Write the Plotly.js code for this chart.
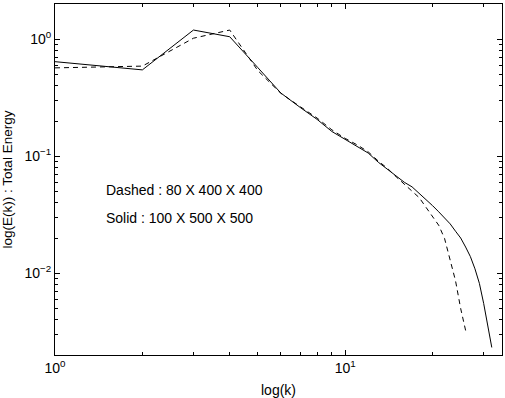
<!DOCTYPE html>
<html>
<head>
<meta charset="utf-8">
<script src="https://cdn.plot.ly/plotly-3.0.1.min.js"></script>
<style>
  html, body { margin: 0; padding: 0; background: #fff; }
  #plot { width: 505px; height: 398px; }
</style>
</head>
<body>
<div id="plot"></div>
<script>
// wavenumber k and energy spectrum E(k)
const kSolid = [1, 2, 3, 4, 5, 6, 7, 8, 9, 10, 11, 12, 13, 14, 15, 16,
    17, 18, 19, 20, 21, 22, 23, 24, 25, 26, 27, 28, 29, 30, 31, 32];
const eSolid = [0.643, 0.547, 1.198, 1.05, 0.572, 0.347, 0.261, 0.2065,
    0.1626, 0.1396, 0.1217, 0.1065, 0.0889, 0.0775, 0.0676, 0.0598,
    0.0547, 0.0482, 0.0427, 0.0378, 0.0335, 0.0299, 0.0264, 0.02286,
    0.0200, 0.01674, 0.01387, 0.01090, 0.00819, 0.00552, 0.00344, 0.00232];

const kDashed = [1, 2, 3, 4, 5, 6, 7, 8, 9, 10, 11, 12, 13, 14, 15, 16,
    17, 18, 19, 20, 21, 22, 23, 24, 25, 26];
const eDashed = [0.569, 0.589, 1.02, 1.198, 0.539, 0.345, 0.265, 0.212,
    0.168, 0.142, 0.125, 0.109, 0.091, 0.0785, 0.0665, 0.0572,
    0.0504, 0.0442, 0.0365, 0.0305, 0.0257, 0.0198, 0.01316, 0.00861,
    0.00499, 0.00324];

const xTickVals = [1, 10];
const xTickText = ['10<sup>0</sup>', '10<sup>1</sup>'];
const xMinorVals = [2, 3, 4, 5, 6, 7, 8, 9, 20, 30];

const yTickVals = [0.01, 0.1, 1];
const yTickText = ['10<sup>\u22122</sup>', '10<sup>\u22121</sup>', '10<sup>0</sup>'];
const yMinorVals = [0.003, 0.004, 0.005, 0.006, 0.007, 0.008, 0.009,
    0.02, 0.03, 0.04, 0.05, 0.06, 0.07, 0.08, 0.09,
    0.2, 0.3, 0.4, 0.5, 0.6, 0.7, 0.8, 0.9, 2];

const labels = ['Dashed : 80 X 400 X 400', 'Solid : 100 X 500 X 500'];

const font = 'Liberation Sans, Arial, Helvetica, sans-serif';

const data = [
    {
        x: kSolid,
        y: eSolid,
        type: 'scatter',
        mode: 'lines',
        line: {color: '#000', width: 1},
        hoverinfo: 'skip',
    },
    {
        x: kDashed,
        y: eDashed,
        type: 'scatter',
        mode: 'lines',
        line: {color: '#000', width: 1, dash: '5px,4px'},
        hoverinfo: 'skip',
    },
];

const axisCommon = {
    type: 'log',
    showgrid: false,
    zeroline: false,
    showline: true,
    linecolor: '#000',
    linewidth: 1,
    mirror: 'ticks',
    ticks: 'inside',
    ticklen: 5,
    tickcolor: '#000',
    tickmode: 'array',
    tickfont: {family: font, size: 14, color: '#000'},
};

const layout = {
    width: 505,
    height: 398,
    margin: {l: 55, r: 3, t: 4, b: 43},
    paper_bgcolor: '#fff',
    plot_bgcolor: '#fff',
    showlegend: false,
    font: {family: font, size: 14, color: '#000'},
    xaxis: Object.assign({}, axisCommon, {
        range: [0, Math.log10(34.7)],
        tickvals: xTickVals,
        ticktext: xTickText,
        minor: {ticks: 'inside', ticklen: 3, tickcolor: '#000', tickmode: 'array', tickvals: xMinorVals},
        title: {text: 'log(k)', font: {family: font, size: 14}, standoff: 12},
    }),
    yaxis: Object.assign({}, axisCommon, {
        range: [Math.log10(0.002), Math.log10(2)],
        tickvals: yTickVals,
        ticktext: yTickText,
        minor: {ticks: 'inside', ticklen: 3, tickcolor: '#000', tickmode: 'array', tickvals: yMinorVals},
        title: {text: 'log(E(k)) : Total Energy', font: {family: font, size: 13.5}, standoff: 9},
    }),
    annotations: labels.map((t, i) => ({
        text: t,
        xref: 'paper',
        yref: 'paper',
        x: 0.11,
        y: i === 0 ? 0.47 : 0.39,
        xanchor: 'left',
        yanchor: 'middle',
        showarrow: false,
        font: {family: font, size: 14, color: '#000'},
    })),
};

Plotly.newPlot('plot', data, layout, {displayModeBar: false, staticPlot: true});
</script>
</body>
</html>
